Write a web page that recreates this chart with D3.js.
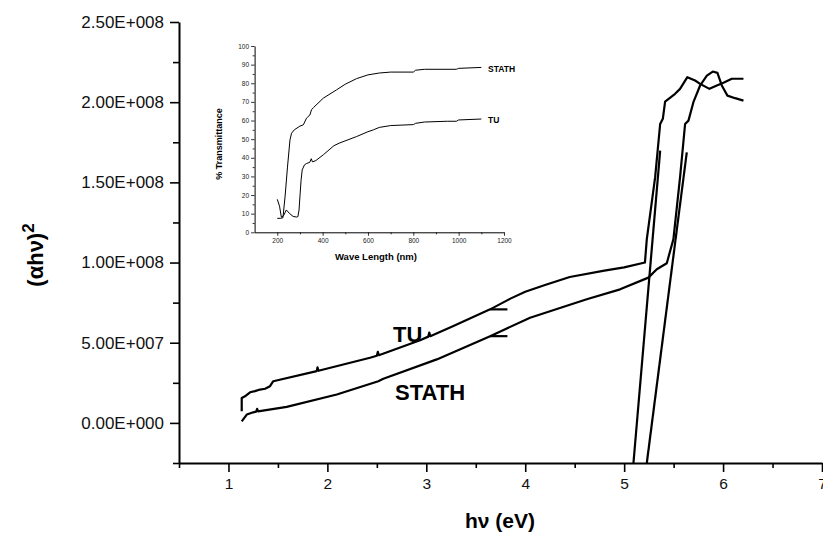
<!DOCTYPE html>
<meta charset="utf-8">
<head>
  <style>
    html, body { margin: 0; padding: 0; background: #fff; }
    svg { display: block; font-family: "Liberation Sans", Arial, sans-serif; }
    .main .domain { stroke: #000; stroke-width: 2; }
    .main .tick line { stroke: #000; stroke-width: 1.6; }
    .main .tick text { fill: #111; }
    .inset .domain { stroke: #000; stroke-width: 1; }
    .inset .tick line { stroke: #000; stroke-width: 0.8; }
    .inset .tick text { fill: #222; font-size: 6.5px; }
  </style>
</head>
<script src="https://cdn.jsdelivr.net/npm/d3@7"></script>
<body>
<script>
// main plot: (alpha h nu)^2 vs photon energy
var tuEnergy = [1.134, 1.134, 1.167, 1.218, 1.268, 1.319, 1.37, 1.42, 1.453, 1.892, 1.90, 1.91,
  2.431, 2.50, 2.51, 2.52, 2.937, 3.02, 3.03, 3.04, 3.274, 3.645, 3.85, 4.0, 4.2, 4.45, 4.8, 5.0,
  5.21, 5.229, 5.313, 5.364, 5.391, 5.414, 5.515, 5.565, 5.639, 5.717, 5.768, 5.862, 5.937, 6.004, 6.088, 6.206];
var tuValue = [7.3e6, 15.6e6, 16.6e6, 19.1e6, 19.8e6, 20.8e6, 21.3e6, 22.9e6, 26.0e6, 32.3e6, 34.6e6, 32.5e6,
  40.6e6, 41.9e6, 44.3e6, 42.2e6, 51.6e6, 53.8e6, 56.3e6, 54.1e6, 60.4e6, 70.8e6, 77.5e6, 81.8e6, 86.0e6, 91.0e6, 95.0e6, 97.0e6,
  100.0e6, 114.6e6, 153.1e6, 186.4e6, 189.6e6, 200.4e6, 205.2e6, 208.3e6, 215.6e6, 213.5e6, 211.4e6, 208.3e6, 210.4e6, 212.1e6, 214.6e6, 214.6e6];

var stathEnergy = [1.134, 1.185, 1.251, 1.28, 1.29, 1.30, 1.589, 2.095, 2.515, 2.566, 3.106, 3.645, 4.049,
  4.622, 4.959, 5.245, 5.33, 5.431, 5.498, 5.565, 5.616, 5.65, 5.7, 5.768, 5.836, 5.896, 5.943, 5.987, 6.044, 6.122, 6.206];
var stathValue = [1.0e6, 5.2e6, 6.6e6, 7.0e6, 8.8e6, 7.2e6, 10.0e6, 17.7e6, 26.0e6, 27.5e6, 39.6e6, 54.1e6, 65.6e6,
  77.1e6, 83.3e6, 90.6e6, 95.8e6, 99.6e6, 114.6e6, 153.1e6, 186.4e6, 188.5e6, 200e6, 210.4e6, 216.6e6, 219.1e6, 218.3e6, 210.4e6, 204.1e6, 202.5e6, 201e6];

// straight-line fits used to find the band gap
var fitTuEnergy = [5.094, 5.364];
var fitTuValue = [-25e6, 169.75e6];
var fitStathEnergy = [5.229, 5.633];
var fitStathValue = [-25e6, 168.75e6];

// little pointer marks next to the curves
var markEnergy = [3.645, 3.82];
var markValue = [70.8e6, 54.1e6];

var xTicks = [1, 2, 3, 4, 5, 6, 7];
var xMinor = [0.5, 1.5, 2.5, 3.5, 4.5, 5.5, 6.5];
var yTicks = [0, 50e6, 100e6, 150e6, 200e6, 250e6];
var yMinor = [-25e6, 25e6, 75e6, 125e6, 175e6, 225e6];

// inset: transmittance vs wavelength
var stathWave = [200, 215, 225, 235, 245, 256, 263, 275, 300, 315, 329, 335, 344, 351, 360, 403, 462, 500, 550, 600, 650, 700, 800, 810, 850, 900, 990, 1000, 1100];
var stathTrans = [7.5, 7.5, 7.8, 20, 35, 49.6, 53.2, 55, 57, 57.7, 61.3, 62, 63, 65.8, 67, 72, 76.5, 79.5, 82.5, 84.5, 85.5, 86, 86, 87, 87.5, 87.5, 87.5, 88, 88.5];
var tuWave = [200, 210, 218, 228, 240, 255, 270, 285, 291, 296, 301, 305, 310, 320, 330, 343, 350, 355, 370, 403, 450, 476, 550, 600, 624, 650, 700, 800, 810, 850, 950, 990, 1000, 1100];
var tuTrans = [17.7, 14, 8.1, 9, 12, 10, 8.5, 8.2, 8.4, 12, 21, 28, 33.5, 36.2, 37, 37.5, 39.5, 37.8, 38.5, 41.6, 46.5, 48, 51.4, 54, 55, 56.3, 57.3, 57.8, 58.5, 59.2, 59.6, 59.6, 60.3, 60.8];
var insetXTicks = [200, 400, 600, 800, 1000, 1200];
var insetXMinor = [300, 500, 700, 900, 1100];
var insetYTicks = [0, 10, 20, 30, 40, 50, 60, 70, 80, 90, 100];
var insetYMinor = [5, 15, 25, 35, 45, 55, 65, 75, 85, 95];

var width = 823, height = 534;
var svg = d3.select("body").append("svg")
  .attr("width", width)
  .attr("height", height);

var x = d3.scaleLinear().domain([0.5, 7]).range([179, 822]);
var y = d3.scaleLinear().domain([-25e6, 250e6]).range([463, 22]);

function sci(v) {
  if (v === 0) return "0.00E+000";
  var e = Math.floor(Math.log10(Math.abs(v)));
  var m = v / Math.pow(10, e);
  return m.toFixed(2) + "E+" + String(e).padStart(3, "0");
}

var main = svg.append("g").attr("class", "main");

// minor ticks first, then the labelled axes
main.append("g")
  .attr("transform", "translate(0,463)")
  .call(d3.axisBottom(x).tickValues(xMinor).tickSize(5).tickFormat(""))
  .call(g => g.select(".domain").remove());
main.append("g")
  .attr("transform", "translate(179,0)")
  .call(d3.axisLeft(y).tickValues(yMinor).tickSize(6).tickFormat(""))
  .call(g => g.select(".domain").remove());

main.append("g")
  .attr("transform", "translate(0,463)")
  .call(d3.axisBottom(x).tickValues(xTicks).tickSize(9).tickSizeOuter(0).tickPadding(6).tickFormat(d3.format("d")))
  .selectAll("text").style("font-size", "15.5px");
main.append("g")
  .attr("transform", "translate(179,0)")
  .call(d3.axisLeft(y).tickValues(yTicks).tickSize(9).tickSizeOuter(0).tickPadding(6).tickFormat(sci))
  .selectAll("text").style("font-size", "17px");

var line = d3.line()
  .x(d => x(d[0]))
  .y(d => y(d[1]));

function pairs(a, b) { return a.map((v, i) => [v, b[i]]); }

var curves = svg.append("g")
  .attr("fill", "none")
  .attr("stroke", "#000")
  .attr("stroke-width", 2.2)
  .attr("stroke-linejoin", "round");

curves.append("path").attr("d", line(pairs(tuEnergy, tuValue)));
curves.append("path").attr("d", line(pairs(stathEnergy, stathValue)));
curves.append("path").attr("d", line(pairs(fitTuEnergy, fitTuValue)));
curves.append("path").attr("d", line(pairs(fitStathEnergy, fitStathValue)));

markValue.forEach(function(v) {
  curves.append("line")
    .attr("x1", x(markEnergy[0])).attr("x2", x(markEnergy[1]))
    .attr("y1", y(v)).attr("y2", y(v));
});

svg.append("text").attr("x", 393).attr("y", 342)
  .style("font-size", "22px").style("font-weight", "bold").text("TU");
svg.append("text").attr("x", 395).attr("y", 400)
  .style("font-size", "22px").style("font-weight", "bold").text("STATH");

// axis titles
var yl = svg.append("text")
  .attr("transform", "translate(43,255) rotate(-90)")
  .attr("text-anchor", "middle")
  .style("font-size", "22px").style("font-weight", "bold");
yl.append("tspan").text("(\u03b1h\u03bd)");
yl.append("tspan").attr("dy", -9).style("font-size", "17px").text("2");

svg.append("text")
  .attr("x", 500).attr("y", 528)
  .attr("text-anchor", "middle")
  .style("font-size", "21px").style("font-weight", "bold")
  .text("h\u03bd (eV)");

// ---- inset ----
var ix = d3.scaleLinear().domain([100, 1200]).range([254.6, 504]);
var iy = d3.scaleLinear().domain([0, 100]).range([232.3, 46]);

var inset = svg.append("g").attr("class", "inset");
inset.append("g")
  .attr("transform", "translate(0,232.3)")
  .call(d3.axisBottom(ix).tickValues(insetXMinor).tickSize(2).tickFormat(""))
  .call(g => g.select(".domain").remove());
inset.append("g")
  .attr("transform", "translate(254.6,0)")
  .call(d3.axisLeft(iy).tickValues(insetYMinor).tickSize(2).tickFormat(""))
  .call(g => g.select(".domain").remove());
inset.append("g")
  .attr("transform", "translate(0,232.3)")
  .call(d3.axisBottom(ix).tickValues(insetXTicks).tickSize(3.5).tickSizeOuter(0).tickPadding(3).tickFormat(d3.format("d")));
inset.append("g")
  .attr("transform", "translate(254.6,0)")
  .call(d3.axisLeft(iy).tickValues(insetYTicks).tickSize(3.5).tickSizeOuter(0).tickPadding(2).tickFormat(d3.format("d")));

var iline = d3.line()
  .x(d => ix(d[0]))
  .y(d => iy(d[1]));

inset.append("path")
  .attr("d", iline(pairs(stathWave, stathTrans)))
  .attr("fill", "none").attr("stroke", "#000").attr("stroke-width", 1);
inset.append("path")
  .attr("d", iline(pairs(tuWave, tuTrans)))
  .attr("fill", "none").attr("stroke", "#000").attr("stroke-width", 1);

inset.append("text").attr("x", 488).attr("y", 72)
  .style("font-size", "8.5px").style("font-weight", "bold").text("STATH");
inset.append("text").attr("x", 488).attr("y", 123)
  .style("font-size", "8.5px").style("font-weight", "bold").text("TU");

inset.append("text")
  .attr("transform", "translate(222,144) rotate(-90)")
  .attr("text-anchor", "middle")
  .style("font-size", "9px").style("font-weight", "bold")
  .text("% Transmittance");
inset.append("text")
  .attr("x", 376).attr("y", 260)
  .attr("text-anchor", "middle")
  .style("font-size", "9.5px").style("font-weight", "bold")
  .text("Wave Length (nm)");
</script>
</body>
